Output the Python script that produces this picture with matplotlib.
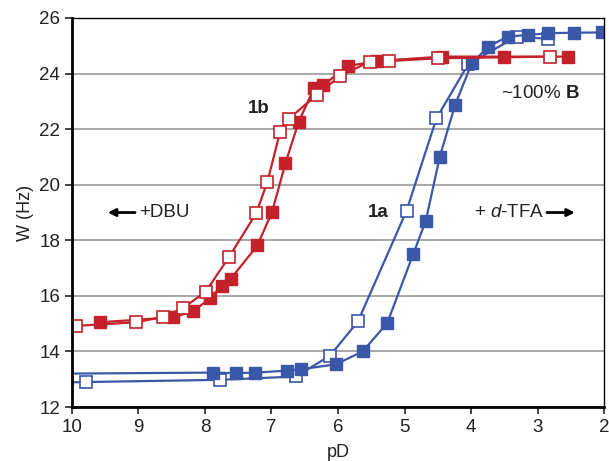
import matplotlib.pyplot as plt

plt.rcParams['font.family'] = ['Liberation Sans', 'DejaVu Sans']
plt.rcParams['mathtext.fontset'] = 'custom'
plt.rcParams['mathtext.rm'] = 'Liberation Sans'
plt.rcParams['mathtext.it'] = 'Liberation Sans:italic'
plt.rcParams['mathtext.bf'] = 'Liberation Sans:bold'

red = '#c4212b'
blue = '#3b57a7'

# 1b (red), filled squares
pd_1b_f = [9.58, 8.48, 8.18, 7.92, 7.75, 7.61, 7.21, 6.99, 6.79, 6.59, 6.36, 6.22, 5.85, 5.42, 4.44, 3.51, 2.54]
w_1b_f = [15.05, 15.23, 15.44, 15.92, 16.35, 16.62, 17.82, 19.03, 20.77, 22.27, 23.47, 23.59, 24.27, 24.45, 24.61, 24.61, 24.61]
# 1b (red), open squares
pd_1b_o = [9.94, 9.04, 8.63, 8.33, 7.99, 7.64, 7.23, 7.06, 6.87, 6.74, 6.32, 5.97, 5.52, 5.24, 4.49, 2.82]
w_1b_o = [14.92, 15.05, 15.24, 15.56, 16.15, 17.39, 18.97, 20.11, 21.91, 22.37, 23.23, 23.91, 24.43, 24.45, 24.55, 24.61]

# 1a (blue), filled squares
pd_1a_f = [10.3, 7.88, 7.54, 7.24, 6.77, 6.55, 6.03, 5.63, 5.26, 4.87, 4.68, 4.47, 4.24, 3.99, 3.74, 3.45, 3.14, 2.84, 2.46, 2.03]
w_1a_f = [13.2, 13.24, 13.22, 13.24, 13.31, 13.36, 13.54, 14.0, 15.02, 17.5, 18.7, 21.01, 22.87, 24.37, 24.97, 25.33, 25.39, 25.45, 25.47, 25.48]
# 1a (blue), open squares
pd_1a_o = [10.3, 9.79, 7.78, 6.63, 6.12, 5.70, 4.97, 4.52, 4.04, 3.31, 2.85]
w_1a_o = [12.88, 12.9, 12.98, 13.1, 13.85, 15.08, 19.06, 22.39, 24.35, 25.33, 25.25]

fig = plt.figure(figsize=(6.09, 4.61), dpi=100)
ax = fig.add_axes([0.118, 0.117, 0.874, 0.844])

ax.plot(pd_1a_o, w_1a_o, '-s', color=blue, lw=1.6, ms=8.5, mfc='white', mec=blue, mew=1.2)
ax.plot(pd_1a_f, w_1a_f, '-s', color=blue, lw=1.6, ms=8.5, mec=blue)
ax.plot(pd_1b_f, w_1b_f, '-s', color=red, lw=1.6, ms=8.5, mec=red)
ax.plot(pd_1b_o, w_1b_o, '-s', color=red, lw=1.6, ms=8.5, mfc='white', mec=red, mew=1.2)

ax.set_xlim(10, 2)
ax.set_ylim(12, 26)
ax.set_xticks(range(10, 1, -1))
ax.set_yticks(range(12, 27, 2))
ax.yaxis.grid(True, color='#999999', lw=1.2)
ax.set_axisbelow(True)
ax.tick_params(labelsize=13.5, direction='out', length=5, width=1.2, colors='#222222')
for s in ['left', 'bottom']:
    ax.spines[s].set_linewidth(2)
for s in ['top', 'right']:
    ax.spines[s].set_linewidth(1)

ax.set_xlabel('pD', fontsize=13, color='#222222', labelpad=6)
ax.set_ylabel('W (Hz)', fontsize=13, color='#222222', labelpad=4)

ax.text(7.19, 22.75, '1b', fontsize=13.5, fontweight='bold', ha='center', va='center', color='#222222')
ax.text(5.4, 19.0, '1a', fontsize=13.5, fontweight='bold', ha='center', va='center', color='#222222')
ax.text(2.96, 23.3, r'~100% $\mathbf{B}$', fontsize=13.5, ha='center', va='center', color='#222222')
ax.text(8.99, 19.0, '+DBU', fontsize=13.5, ha='left', va='center', color='#222222')
ax.annotate('', xy=(9.46, 19.0), xytext=(9.05, 19.0),
            arrowprops=dict(arrowstyle='-|>', color='black', lw=2, mutation_scale=11,
                            shrinkA=0, shrinkB=0))
ax.text(3.95, 19.0, r'+ $\mathit{d}$-TFA', fontsize=13.5, ha='left', va='center', color='#222222')
ax.annotate('', xy=(2.44, 19.0), xytext=(2.86, 19.0),
            arrowprops=dict(arrowstyle='-|>', color='black', lw=2, mutation_scale=11,
                            shrinkA=0, shrinkB=0))

plt.savefig('out.png', dpi=100)
